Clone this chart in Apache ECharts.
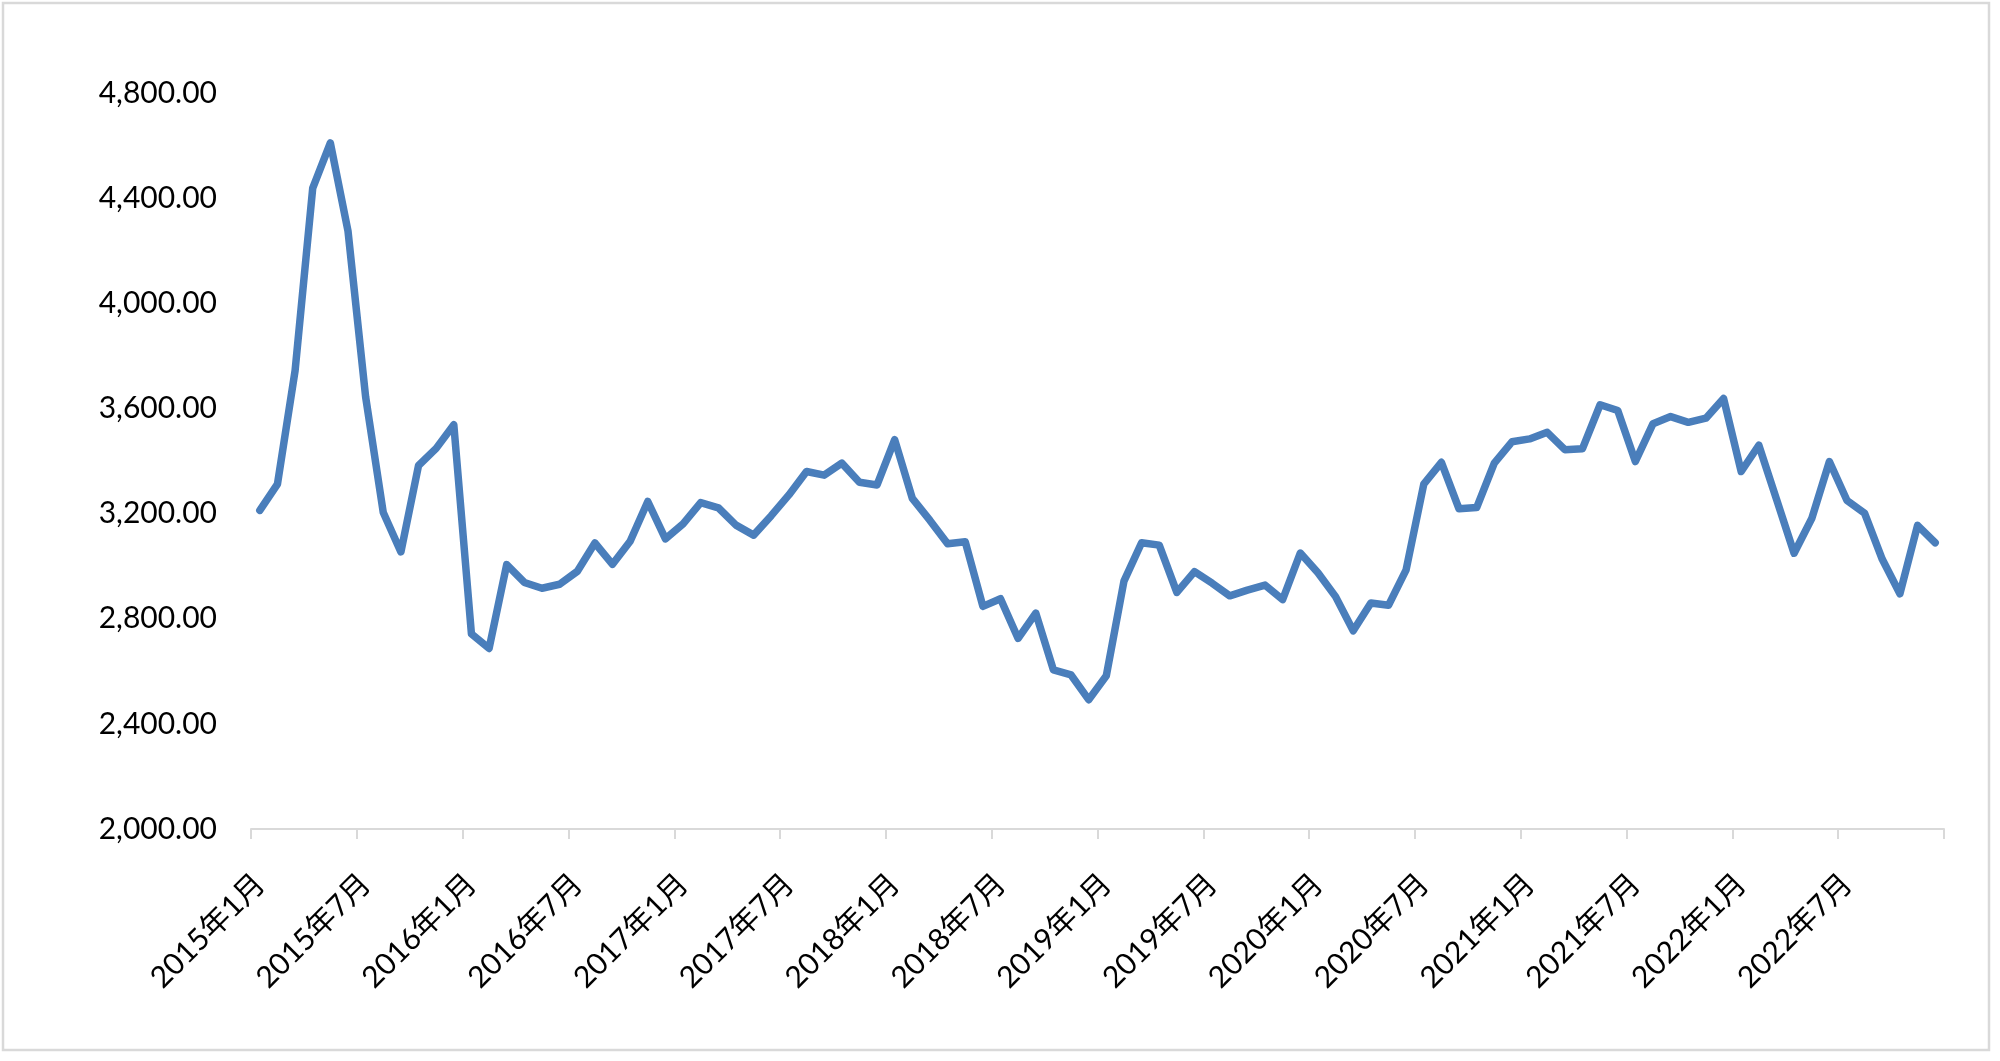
<!DOCTYPE html>
<html>
<head>
<meta charset="utf-8">
<script src="https://cdn.jsdelivr.net/npm/echarts@6/dist/echarts.min.js"></script>
<style>
html,body{margin:0;padding:0;background:#fff;}
#chart{width:2000px;height:1061px;}
</style>
</head>
<body>
<div id="chart"></div>
<script>
const years = [2015, 2016, 2017, 2018, 2019, 2020, 2021, 2022];
const months = [1, 2, 3, 4, 5, 6, 7, 8, 9, 10, 11, 12];
const categories = [];
years.forEach(y => months.forEach(m => categories.push(y + '年' + m + '月')));

const values2015 = [3212, 3312, 3744, 4438, 4610, 4275, 3644, 3204, 3054, 3383, 3448, 3538];
const values2016 = [2742, 2687, 3006, 2938, 2916, 2931, 2980, 3088, 3007, 3095, 3246, 3104];
const values2017 = [3161, 3242, 3222, 3156, 3118, 3192, 3271, 3360, 3346, 3392, 3319, 3309];
const values2018 = [3481, 3258, 3174, 3085, 3093, 2847, 2876, 2725, 2821, 2605, 2586, 2492];
const values2019 = [2583, 2943, 3089, 3080, 2900, 2979, 2935, 2887, 2909, 2928, 2873, 3050];
const values2020 = [2975, 2884, 2754, 2860, 2851, 2986, 3312, 3395, 3218, 3223, 3392, 3473];
const values2021 = [3484, 3509, 3443, 3447, 3614, 3592, 3398, 3542, 3569, 3547, 3563, 3638];
const values2022 = [3360, 3460, 3255, 3049, 3181, 3398, 3250, 3201, 3026, 2895, 3155, 3089];
const values = [].concat(values2015, values2016, values2017, values2018,
  values2019, values2020, values2021, values2022);

const yMin = 2000, yMax = 4800, yStep = 400;

const chart = echarts.init(document.getElementById('chart'));
const fontFamily = 'Lato, "Noto Sans CJK SC", sans-serif';
chart.setOption({
  backgroundColor: '#ffffff',
  animation: false,
  graphic: [{
    type: 'rect',
    shape: { x: 3, y: 3, width: 1986, height: 1047 },
    style: { fill: 'none', stroke: '#d9d9d9', lineWidth: 2.5 },
    silent: true
  }],
  grid: { left: 251, right: 56, top: 93, bottom: 232, containLabel: false },
  xAxis: {
    type: 'category',
    data: categories,
    boundaryGap: true,
    axisLine: { show: true, lineStyle: { color: '#d9d9d9', width: 2 } },
    axisTick: { show: true, interval: 5, length: 10, lineStyle: { color: '#d9d9d9', width: 2 } },
    axisLabel: {
      interval: 5,
      rotate: 45,
      margin: 50,
      color: '#000000',
      fontSize: 30,
      fontFamily: fontFamily
    },
    splitLine: { show: false }
  },
  yAxis: {
    type: 'value',
    min: yMin,
    max: yMax,
    interval: yStep,
    axisLine: { show: false },
    axisTick: { show: false },
    splitLine: { show: false },
    axisLabel: {
      margin: 34,
      color: '#000000',
      fontSize: 30,
      fontFamily: fontFamily,
      formatter: v => v.toLocaleString('en-US', { minimumFractionDigits: 2, maximumFractionDigits: 2 })
    }
  },
  series: [{
    type: 'line',
    data: values,
    symbol: 'none',
    smooth: false,
    lineStyle: { color: '#4A7EBB', width: 7.5, join: 'round', cap: 'round' }
  }]
});
</script>
</body>
</html>
